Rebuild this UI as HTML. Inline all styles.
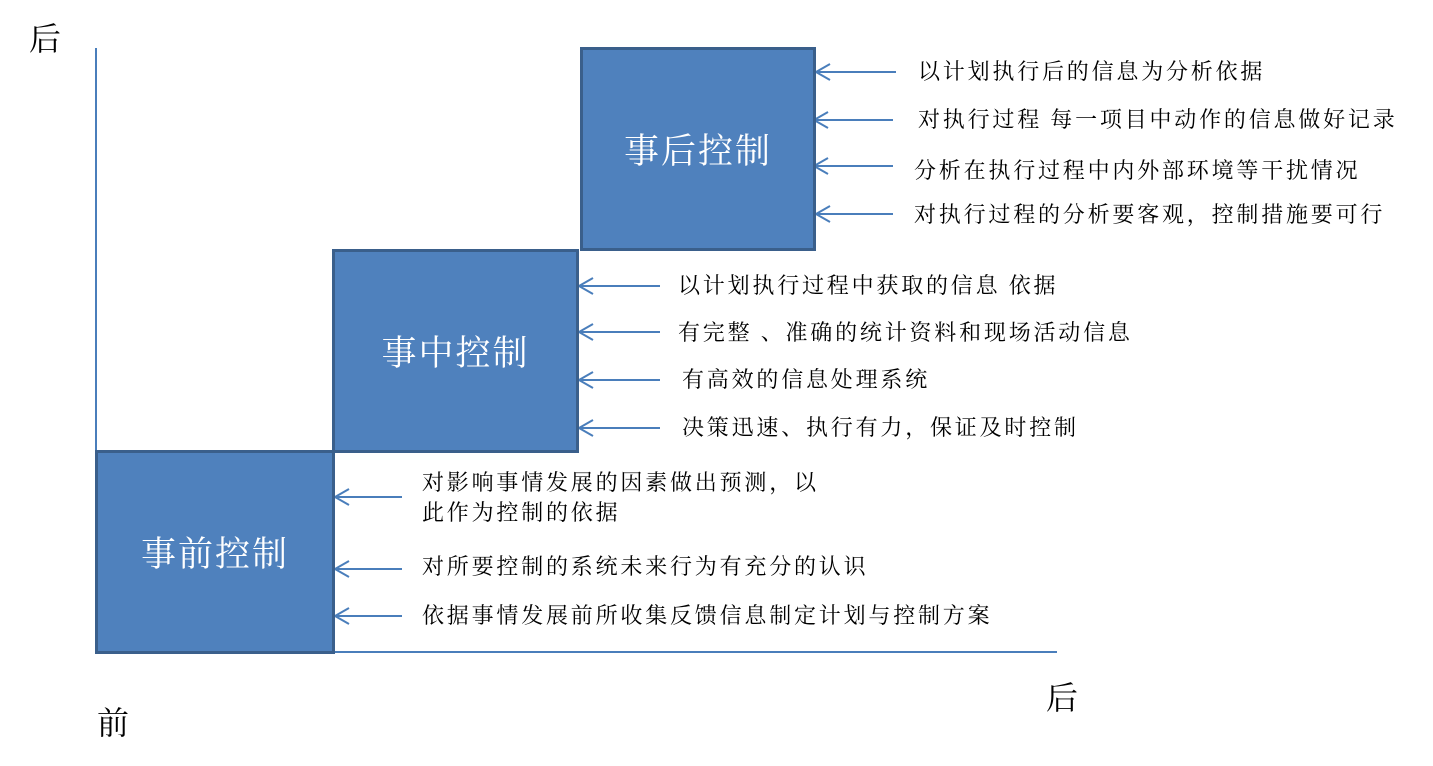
<!DOCTYPE html>
<html><head><meta charset="utf-8"><style>
body{margin:0;background:#fff;width:1433px;height:766px;overflow:hidden;position:relative;font-family:"Liberation Serif","Noto Serif CJK SC",serif}
.t{position:absolute;font-size:22px;letter-spacing:2.8px;color:#000;white-space:nowrap;line-height:26px}
.b{position:absolute;background:#4f81bd;border:3px solid #3a5f8b;box-sizing:border-box;color:#fff;font-size:35px;letter-spacing:2px;display:flex;align-items:center;justify-content:center}
.big{position:absolute;font-size:32px;line-height:36px}
</style></head><body>
<svg width="1433" height="766" style="position:absolute;left:0;top:0">
<g stroke="#4a7ebb" stroke-width="2" fill="none">
<line x1="96" y1="48" x2="96" y2="452"/>
<line x1="333" y1="652" x2="1057" y2="652"/>
<path d="M896 72H816M830 64L816 72L830 80"/>
<path d="M893 120H814M828 112L814 120L828 128"/>
<path d="M893 166H814M828 158L814 166L828 174"/>
<path d="M893 214H816M830 206L816 214L830 222"/>
<path d="M660 286H579M593 278L579 286L593 294"/>
<path d="M660 332H579M593 324L579 332L593 340"/>
<path d="M660 380H579M593 372L579 380L593 388"/>
<path d="M660 428H579M593 420L579 428L593 436"/>
<path d="M402 497H335M349 489L335 497L349 505"/>
<path d="M402 569H335M349 561L335 569L349 577"/>
<path d="M402 616H335M349 608L335 616L349 624"/>
</g></svg>
<div class="b" style="left:580px;top:47px;width:236px;height:204px">事后控制</div>
<div class="b" style="left:332px;top:249px;width:247px;height:204px">事中控制</div>
<div class="b" style="left:95px;top:450px;width:240px;height:204px">事前控制</div>
<div class="t" style="left:918px;top:59px">以计划执行后的信息为分析依据</div>
<div class="t" style="left:918px;top:107px">对执行过程 每一项目中动作的信息做好记录</div>
<div class="t" style="left:914px;top:158px">分析在执行过程中内外部环境等干扰情况</div>
<div class="t" style="left:914px;top:202px">对执行过程的分析要客观，控制措施要可行</div>
<div class="t" style="left:678px;top:273px">以计划执行过程中获取的信息 依据</div>
<div class="t" style="left:678px;top:320px">有完整 、准确的统计资料和现场活动信息</div>
<div class="t" style="left:682px;top:367px">有高效的信息处理系统</div>
<div class="t" style="left:682px;top:415px">决策迅速、执行有力，保证及时控制</div>
<div class="t" style="left:422px;top:468px;line-height:30px">对影响事情发展的因素做出预测，以<br>此作为控制的依据</div>
<div class="t" style="left:422px;top:554px">对所要控制的系统未来行为有充分的认识</div>
<div class="t" style="left:422px;top:603px">依据事情发展前所收集反馈信息制定计划与控制方案</div>
<div class="big" style="left:29px;top:21px">后</div>
<div class="big" style="left:97px;top:705px">前</div>
<div class="big" style="left:1046px;top:680px">后</div>
</body></html>
